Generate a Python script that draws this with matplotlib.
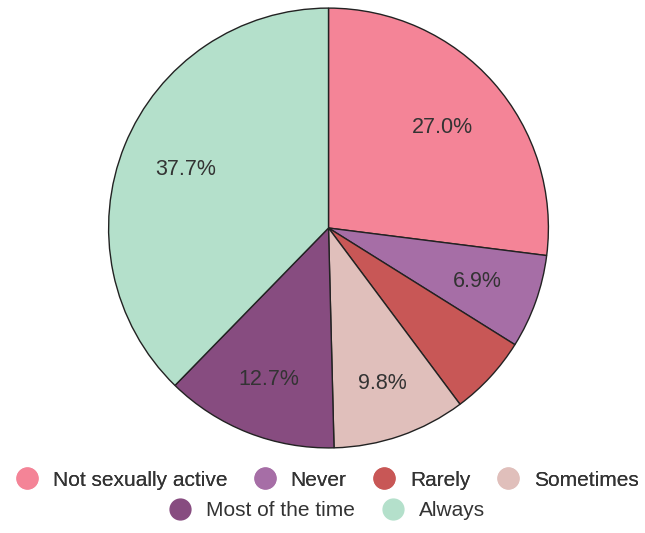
import matplotlib
matplotlib.use("Agg")
import matplotlib.pyplot as plt
import numpy as np
from matplotlib.lines import Line2D

plt.rcParams['font.family'] = ['Liberation Sans', 'DejaVu Sans']

# data
categories = ["Not sexually active", "Never", "Rarely", "Sometimes",
              "Most of the time", "Always"]
shares = [27.0, 6.9, 5.9, 9.8, 12.7, 37.7]
colors = ["#F48497", "#A66EA6", "#C85756", "#E0BFBB", "#874C80", "#B4E0CB"]
# how far out each percent label sits (fraction of radius)
label_radius = [0.69, 0.72, 0.72, 0.75, 0.74, 0.70]

fig = plt.figure(figsize=(6.45, 5.33), dpi=100)
ax = fig.add_axes([107.5/645, 84/533, 442/645, 442/533])

def pct_label(p):
    # small slices get no label
    return f"{p:.1f}%" if p > 6 else ""

wedges, texts, autotexts = ax.pie(
    shares, colors=colors, startangle=90, counterclock=False,
    autopct=pct_label, pctdistance=0.70,
    wedgeprops=dict(edgecolor="#222222", linewidth=1.0),
    textprops=dict(fontsize=15.5, color="#333333"))
for w, t, r in zip(wedges, autotexts, label_radius):
    mid = np.deg2rad((w.theta1 + w.theta2) / 2)
    t.set_position((r * np.cos(mid), r * np.sin(mid)))
ax.set_xlim(-1.005, 1.005)
ax.set_ylim(-1.005, 1.005)
ax.set_aspect("equal")

def handle(c):
    return Line2D([], [], marker="o", linestyle="", markersize=15,
                  markerfacecolor=c, markeredgecolor=c)

opts = dict(loc="center", frameon=False, fontsize=15, handlelength=1.0,
            handletextpad=0.75, columnspacing=1.3, labelcolor="#333333")
x_mid = 0.5 + 5/645
row1 = fig.legend([handle(c) for c in colors[:4]], categories[:4],
                  bbox_to_anchor=(x_mid, 1 - 480/533), ncol=4, **opts)
row2 = fig.legend([handle(c) for c in colors[4:]], categories[4:],
                  bbox_to_anchor=(x_mid, 1 - 511/533), ncol=2, **opts)
fig.add_artist(row1)

fig.savefig("out.png", dpi=100)
